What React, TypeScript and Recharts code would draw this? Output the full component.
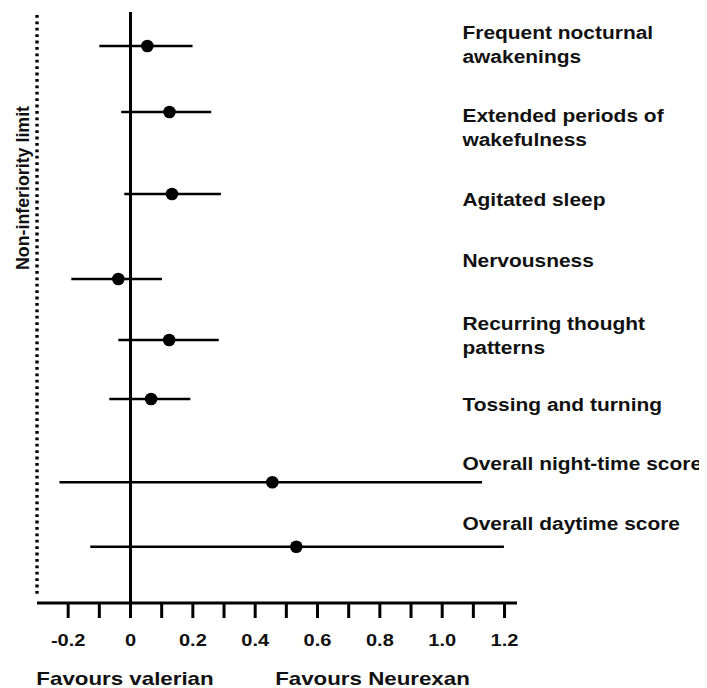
import React from 'react';
import {
  ScatterChart,
  Scatter,
  XAxis,
  YAxis,
  ErrorBar,
  ReferenceLine,
} from 'recharts';

// outcomes, top to bottom (each entry = lines of the label)
const outcomeLines: string[][] = [
  ['Frequent nocturnal', 'awakenings'],
  ['Extended periods of', 'wakefulness'],
  ['Agitated sleep'],
  ['Nervousness'],
  ['Recurring thought', 'patterns'],
  ['Tossing and turning'],
  ['Overall night-time score'],
  ['Overall daytime score'],
];

// difference estimate and confidence limits
const estimates = [0.054, 0.125, 0.133, -0.039, 0.124, 0.066, 0.455, 0.532];
const lowerCI = [-0.1, -0.03, -0.02, -0.19, -0.039, -0.068, -0.228, -0.129];
const upperCI = [0.199, 0.259, 0.29, 0.101, 0.283, 0.192, 1.128, 1.198];

// vertical placement of each row (hidden y scale, 0..8.5, top down)
const rowPos = [0.489, 1.438, 2.618, 3.84, 4.717, 5.566, 6.764, 7.69];
const labelPos = [0.475, 1.668, 2.704, 3.581, 4.66, 5.652, 6.501, 7.364];
const labelX = 1.065;

const xTicks = [-0.2, -0.1, 0, 0.1, 0.2, 0.3, 0.4, 0.5, 0.6, 0.7, 0.8, 0.9, 1.0, 1.1, 1.2];
const xTickLabels = ['-0.2', '', '0', '', '0.2', '', '0.4', '', '0.6', '', '0.8', '', '1.0', '', '1.2'];
const nonInferiorityLimit = -0.3;

const FONT = '"Liberation Sans", Arial, Helvetica, sans-serif';

const points = estimates.map((est, i) => ({
  x: est,
  y: rowPos[i],
  err: [est - lowerCI[i], upperCI[i] - est],
}));

const labels = outcomeLines.map((lines, i) => ({ x: labelX, y: labelPos[i], lines }));

const Dot = (props: any) => {
  const { cx, cy } = props;
  if (cx == null || cy == null) return null;
  return <circle cx={cx} cy={cy} r={6.3} fill="#000" />;
};

const OutcomeLabel = (props: any) => {
  const { cx, cy, payload } = props;
  if (cx == null || cy == null) return null;
  const lines: string[] = payload.lines;
  const lh = 24;
  const first = cy + 6.3 - ((lines.length - 1) * lh) / 2;
  return (
    <g>
      {lines.map((ln, k) => (
        <text
          key={k}
          transform={`translate(${cx},${first + k * lh}) scale(1.19,1)`}
          fontFamily={FONT}
          fontWeight="bold"
          fontSize={17.6}
          fill="#111"
        >
          {ln}
        </text>
      ))}
    </g>
  );
};

const XTick = (props: any) => {
  const { x, y, payload } = props;
  const idx = xTicks.findIndex((t) => Math.abs(t - payload.value) < 1e-6);
  const label = idx >= 0 ? xTickLabels[idx] : '';
  if (!label) return null;
  return (
    <text
      transform={`translate(${x},${y + 28}) scale(1.2,1)`}
      textAnchor="middle"
      fontFamily={FONT}
      fontWeight="bold"
      fontSize={16.7}
      fill="#111"
    >
      {label}
    </text>
  );
};

const FavoursLabel = (props: any) => {
  const { viewBox } = props;
  const { x, y } = viewBox;
  const base = y + 82;
  return (
    <g fontFamily={FONT} fontWeight="bold" fontSize={18.6} fill="#111">
      <text transform={`translate(${x + 88},${base}) scale(1.2,1)`} textAnchor="middle">
        Favours valerian
      </text>
      <text transform={`translate(${x + 335.5},${base}) scale(1.2,1)`} textAnchor="middle">
        Favours Neurexan
      </text>
    </g>
  );
};

const LimitLabel = (props: any) => {
  const { viewBox } = props;
  const tx = viewBox.x - 8.5;
  const ty = 180;
  return (
    <text
      transform={`translate(${tx},${ty}) rotate(-90)`}
      textAnchor="middle"
      fontFamily={FONT}
      fontWeight="bold"
      fontSize={17.8}
      fill="#111"
    >
      Non-inferiority limit
    </text>
  );
};

export default function App() {
  return (
    <div style={{ width: 699, height: 680, background: '#fff' }}>
      <ScatterChart
        width={699}
        height={680}
        margin={{ top: 4, right: 190, bottom: 0, left: 29 }}
      >
        <XAxis
          type="number"
          dataKey="x"
          domain={[-0.3, 1.24]}
          ticks={xTicks}
          interval={0}
          height={85}
          tickSize={15}
          tickMargin={0}
          axisLine={{ stroke: '#000', strokeWidth: 3 }}
          tickLine={{ stroke: '#000', strokeWidth: 3 }}
          tick={<XTick />}
          label={<FavoursLabel />}
        />
        <YAxis type="number" dataKey="y" domain={[0, 8.5]} reversed hide />
        <ReferenceLine x={0} stroke="#000" strokeWidth={3} />
        <ReferenceLine
          segment={[
            { x: nonInferiorityLimit, y: 0.043 },
            { x: nonInferiorityLimit, y: 8.385 },
          ]}
          stroke="#000"
          strokeWidth={3.4}
          strokeDasharray="2.8 3.6"
          label={<LimitLabel />}
        />
        <Scatter data={points} shape={<Dot />} isAnimationActive={false}>
          <ErrorBar
            dataKey="err"
            direction="x"
            width={0}
            stroke="#000"
            strokeWidth={2.6}
            isAnimationActive={false}
          />
        </Scatter>
        <Scatter data={labels} shape={<OutcomeLabel />} isAnimationActive={false} />
      </ScatterChart>
    </div>
  );
}
